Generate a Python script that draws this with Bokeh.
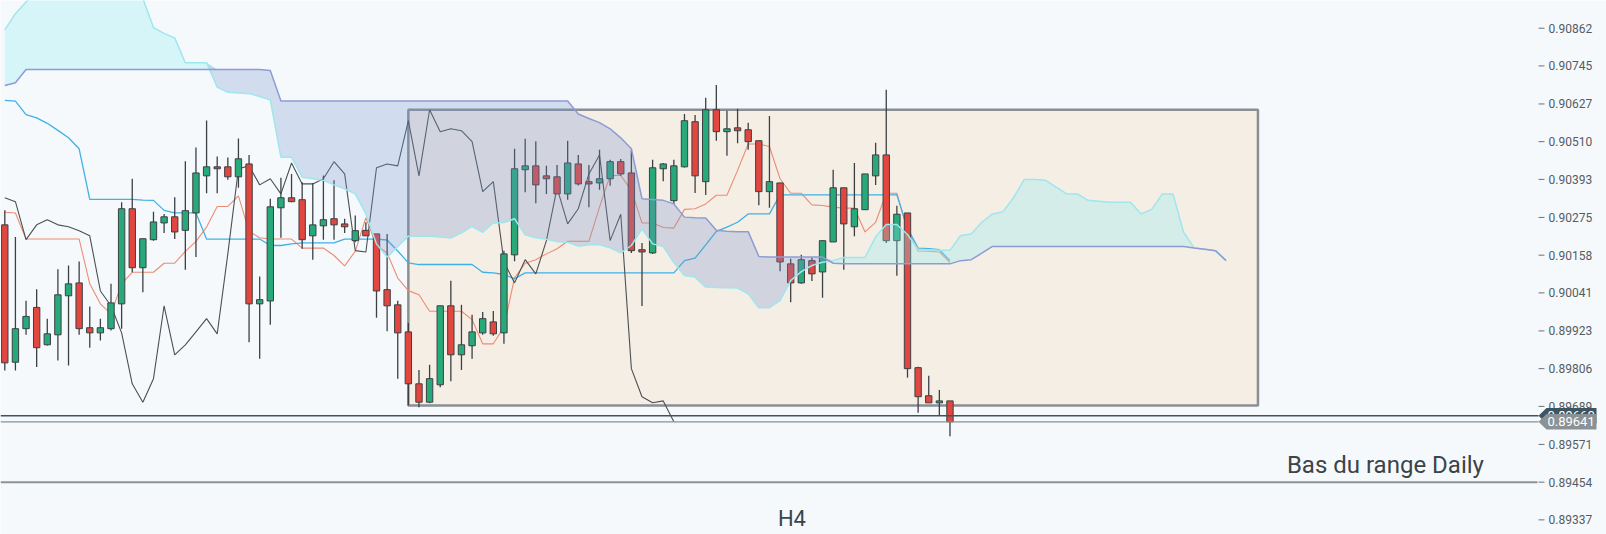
from bokeh.plotting import figure
from bokeh.models import ColumnDataSource, Range1d
from bokeh.embed import file_html
from bokeh.resources import INLINE
from bokeh.core.properties import value

# ---------------- data (H4 candles) ----------------
opens = [
    0.90252, 0.89826, 0.89930, 0.89996, 0.89880, 0.89911, 0.90032, 0.90072, 0.89933, 0.89917,
    0.89930, 0.90007, 0.90302, 0.90119, 0.90206, 0.90258, 0.90277, 0.90235, 0.90289, 0.90404,
    0.90432, 0.90432, 0.90401, 0.90441, 0.90007, 0.90016, 0.90305, 0.90336, 0.90330, 0.90218,
    0.90249, 0.90271, 0.90255, 0.90203, 0.90235, 0.90224, 0.90051, 0.90004, 0.89920, 0.89759,
    0.89702, 0.89756, 0.90001, 0.89849, 0.89877, 0.89917, 0.89951, 0.89917, 0.90159, 0.90423,
    0.90435, 0.90404, 0.90401, 0.90348, 0.90441, 0.90386, 0.90382, 0.90395, 0.90448, 0.90413,
    0.90175, 0.90165, 0.90426, 0.90327, 0.90432, 0.90572, 0.90386, 0.90609, 0.90541, 0.90553,
    0.90547, 0.90513, 0.90355, 0.90382, 0.90131, 0.90072, 0.90141, 0.90106, 0.90199, 0.90367,
    0.90246, 0.90299, 0.90404, 0.90469, 0.90203, 0.90289, 0.89809, 0.89722, 0.89700, 0.89706]
highs = [
    0.90297, 0.90214, 0.90017, 0.90052, 0.89961, 0.90114, 0.90126, 0.90138, 0.89999, 0.89961,
    0.90069, 0.90322, 0.90395, 0.90209, 0.90293, 0.90286, 0.90338, 0.90449, 0.90492, 0.90576,
    0.90464, 0.90461, 0.90520, 0.90469, 0.90092, 0.90333, 0.90398, 0.90410, 0.90384, 0.90382,
    0.90405, 0.90390, 0.90271, 0.90281, 0.90260, 0.90224, 0.90224, 0.90017, 0.89948, 0.89802,
    0.89818, 0.90001, 0.90079, 0.90004, 0.89973, 0.89982, 0.89985, 0.90172, 0.90488, 0.90519,
    0.90511, 0.90435, 0.90438, 0.90513, 0.90469, 0.90438, 0.90485, 0.90454, 0.90456, 0.90485,
    0.90196, 0.90454, 0.90444, 0.90454, 0.90596, 0.90593, 0.90646, 0.90686, 0.90606, 0.90612,
    0.90569, 0.90514, 0.90590, 0.90383, 0.90147, 0.90159, 0.90150, 0.90203, 0.90423, 0.90367,
    0.90444, 0.90410, 0.90507, 0.90671, 0.90311, 0.90289, 0.89812, 0.89784, 0.89740, 0.89706]
lows = [
    0.89800, 0.89800, 0.89911, 0.89811, 0.89878, 0.89831, 0.89816, 0.89911, 0.89871, 0.89893,
    0.89924, 0.89930, 0.90105, 0.90043, 0.90203, 0.90227, 0.90208, 0.90113, 0.90152, 0.90350,
    0.90350, 0.90392, 0.90367, 0.89888, 0.89837, 0.89942, 0.90212, 0.90322, 0.90178, 0.90144,
    0.90206, 0.90206, 0.90227, 0.90198, 0.90218, 0.89964, 0.89922, 0.89775, 0.89692, 0.89686,
    0.89699, 0.89748, 0.89767, 0.89802, 0.89837, 0.89911, 0.89908, 0.89883, 0.90139, 0.90353,
    0.90319, 0.90348, 0.90348, 0.90330, 0.90374, 0.90307, 0.90361, 0.90373, 0.90404, 0.90165,
    0.90000, 0.90162, 0.90387, 0.90317, 0.90430, 0.90351, 0.90345, 0.90513, 0.90466, 0.90505,
    0.90485, 0.90313, 0.90305, 0.90108, 0.90012, 0.90069, 0.90078, 0.90026, 0.90199, 0.90113,
    0.90217, 0.90299, 0.90376, 0.90196, 0.90094, 0.89778, 0.89669, 0.89700, 0.89661, 0.89596]
closes = [
    0.89824, 0.89930, 0.89968, 0.89871, 0.89914, 0.90035, 0.90069, 0.89930, 0.89917, 0.89933,
    0.90010, 0.90302, 0.90119, 0.90209, 0.90261, 0.90277, 0.90230, 0.90296, 0.90413, 0.90432,
    0.90426, 0.90401, 0.90457, 0.90007, 0.90020, 0.90308, 0.90336, 0.90324, 0.90206, 0.90252,
    0.90268, 0.90252, 0.90246, 0.90234, 0.90218, 0.90047, 0.90001, 0.89917, 0.89759, 0.89702,
    0.89775, 0.90001, 0.89849, 0.89880, 0.89920, 0.89961, 0.89914, 0.90162, 0.90426, 0.90435,
    0.90376, 0.90395, 0.90348, 0.90444, 0.90379, 0.90379, 0.90395, 0.90448, 0.90410, 0.90172,
    0.90168, 0.90429, 0.90441, 0.90435, 0.90575, 0.90404, 0.90609, 0.90541, 0.90550, 0.90544,
    0.90510, 0.90355, 0.90386, 0.90137, 0.90072, 0.90144, 0.90100, 0.90203, 0.90367, 0.90255,
    0.90302, 0.90410, 0.90469, 0.90203, 0.90285, 0.89806, 0.89719, 0.89700, 0.89706, 0.89641]

tenkan = [
    0.90291, 0.90289, 0.90208, 0.90208, 0.90208, 0.90208, 0.90208, 0.90208, 0.90069, 0.90007,
    0.89976, 0.90069, 0.90105, 0.90105, 0.90105, 0.90133, 0.90133, 0.90170, 0.90201, 0.90245,
    0.90309, 0.90309, 0.90342, 0.90232, 0.90212, 0.90208, 0.90208, 0.90208, 0.90180, 0.90180,
    0.90180, 0.90157, 0.90125, 0.90170, 0.90274, 0.90188, 0.90165, 0.90087, 0.90048, 0.90035,
    0.89984, 0.89984, 0.89984, 0.89984, 0.89958, 0.89883, 0.89883, 0.89935, 0.90088, 0.90133,
    0.90144, 0.90162, 0.90178, 0.90201, 0.90201, 0.90201, 0.90307, 0.90405, 0.90405, 0.90359,
    0.90258, 0.90258, 0.90244, 0.90242, 0.90300, 0.90302, 0.90317, 0.90344, 0.90344, 0.90421,
    0.90503, 0.90503, 0.90495, 0.90395, 0.90350, 0.90350, 0.90314, 0.90312, 0.90307, 0.90304,
    0.90304, 0.90230, 0.90260, 0.90350, 0.90350, 0.90235, 0.90171, 0.90170, 0.90168, 0.90135]
kijun = [
    0.90638, 0.90636, 0.90594, 0.90584, 0.90567, 0.90545, 0.90522, 0.90488, 0.90331, 0.90331,
    0.90331, 0.90331, 0.90331, 0.90329, 0.90328, 0.90297, 0.90289, 0.90289, 0.90289, 0.90208,
    0.90208, 0.90208, 0.90208, 0.90208, 0.90208, 0.90188, 0.90188, 0.90193, 0.90196, 0.90196,
    0.90196, 0.90196, 0.90208, 0.90208, 0.90208, 0.90208, 0.90205, 0.90171, 0.90134, 0.90129,
    0.90129, 0.90129, 0.90129, 0.90129, 0.90129, 0.90105, 0.90103, 0.90098, 0.90085, 0.90103,
    0.90103, 0.90103, 0.90103, 0.90103, 0.90103, 0.90103, 0.90103, 0.90103, 0.90103, 0.90103,
    0.90103, 0.90103, 0.90103, 0.90103, 0.90141, 0.90149, 0.90190, 0.90232, 0.90245, 0.90260,
    0.90286, 0.90286, 0.90286, 0.90345, 0.90345, 0.90345, 0.90345, 0.90345, 0.90345, 0.90345,
    0.90345, 0.90345, 0.90345, 0.90345, 0.90345, 0.90241, 0.90180, 0.90178, 0.90175, 0.90141]
senkou_a = [
    0.90857, 0.90907, 0.90943, 0.90979, 0.90979, 0.90979, 0.90979, 0.90979, 0.90979, 0.90979,
    0.90979, 0.90979, 0.90979, 0.90954, 0.90864, 0.90846, 0.90832, 0.90755, 0.90755, 0.90755,
    0.90679, 0.90663, 0.90661, 0.90659, 0.90650, 0.90639, 0.90462, 0.90462, 0.90400, 0.90395,
    0.90390, 0.90376, 0.90364, 0.90348, 0.90286, 0.90193, 0.90152, 0.90185, 0.90217, 0.90217,
    0.90217, 0.90214, 0.90211, 0.90227, 0.90247, 0.90229, 0.90258, 0.90259, 0.90271, 0.90221,
    0.90212, 0.90207, 0.90200, 0.90198, 0.90186, 0.90190, 0.90190, 0.90181, 0.90165, 0.90188,
    0.90240, 0.90193, 0.90185, 0.90135, 0.90095, 0.90090, 0.90059, 0.90058, 0.90057, 0.90056,
    0.90038, 0.89995, 0.89995, 0.90017, 0.90079, 0.90107, 0.90126, 0.90136, 0.90141, 0.90151,
    0.90151, 0.90151, 0.90215, 0.90253, 0.90253, 0.90222, 0.90176, 0.90175, 0.90173, 0.90173,
    0.90219, 0.90224, 0.90260, 0.90286, 0.90293, 0.90337, 0.90393, 0.90393, 0.90390, 0.90369,
    0.90348, 0.90348, 0.90328, 0.90325, 0.90322, 0.90322, 0.90322, 0.90286, 0.90300, 0.90348,
    0.90348, 0.90229, 0.90180, 0.90176, 0.90172, 0.90141]
senkou_b = [
    0.90684, 0.90693, 0.90734, 0.90734, 0.90734, 0.90734, 0.90734, 0.90734, 0.90734, 0.90734,
    0.90734, 0.90734, 0.90734, 0.90734, 0.90734, 0.90734, 0.90734, 0.90734, 0.90734, 0.90734,
    0.90734, 0.90734, 0.90734, 0.90734, 0.90734, 0.90731, 0.90636, 0.90636, 0.90636, 0.90636,
    0.90636, 0.90636, 0.90636, 0.90636, 0.90636, 0.90636, 0.90636, 0.90636, 0.90636, 0.90636,
    0.90636, 0.90636, 0.90636, 0.90636, 0.90636, 0.90636, 0.90636, 0.90636, 0.90636, 0.90636,
    0.90636, 0.90636, 0.90636, 0.90636, 0.90596, 0.90582, 0.90569, 0.90550, 0.90522, 0.90488,
    0.90333, 0.90331, 0.90328, 0.90317, 0.90276, 0.90274, 0.90273, 0.90235, 0.90232, 0.90231,
    0.90231, 0.90154, 0.90152, 0.90152, 0.90152, 0.90152, 0.90152, 0.90152, 0.90133, 0.90131,
    0.90131, 0.90131, 0.90131, 0.90131, 0.90131, 0.90131, 0.90131, 0.90131, 0.90131, 0.90131,
    0.90141, 0.90144, 0.90164, 0.90185, 0.90185, 0.90185, 0.90185, 0.90185, 0.90185, 0.90185,
    0.90185, 0.90185, 0.90185, 0.90185, 0.90185, 0.90185, 0.90185, 0.90185, 0.90185, 0.90185,
    0.90185, 0.90185, 0.90180, 0.90176, 0.90172, 0.90141]

CHIKOU_SHIFT = 26
y_ticks = [0.90862, 0.90745, 0.90627, 0.90510, 0.90393, 0.90275, 0.90158,
           0.90041, 0.89923, 0.89806, 0.89689, 0.89571, 0.89454, 0.89337]
y_tick_labels = ["0.90862", "0.90745", "0.90627", "0.90510", "0.90393", "0.90275", "0.90158",
                 "0.90041", "0.89923", "0.89806", "0.89689", "0.89571", "0.89454", "0.89337"]

range_box = dict(start=38, end=118, top=0.90609, bottom=0.89692)   # daily range box
price_a = 0.89660          # dark price line / tag
price_b = 0.89641          # last close line / tag
daily_low = 0.89454        # "Bas du range Daily"

# ---------------- layout constants (x in bar units) ----------------
X_LEFT, X_FRAME_END, X_RIGHT = -0.405, 144.32, 150.82
TICK_X0, TICK_X1, TICK_LABEL_X = 144.42, 144.98, 145.36
TAG_TIP, TAG_BODY, TAG_END, TAG_TEXT_X, TAG_HALF = 144.42, 145.17, 149.88, 145.26, 0.00024
NOTE_POS = (130.0, 0.895075)    # "Bas du range Daily" (baseline)
TF_POS = (74.12, 0.893400)      # "H4" (baseline)

BG = "#f6f9fc"
GREEN = "#27a97a"
RED = "#e2463f"
OUTLINE = "#3b4045"
FONT = "Roboto"
AXIS_TEXT = "#555c61"

n = len(closes)
idx = list(range(n))
src = ColumnDataSource(dict(
    x=idx, o=opens, h=highs, l=lows, c=closes,
    top=[max(o, c) for o, c in zip(opens, closes)],
    bottom=[min(o, c) for o, c in zip(opens, closes)],
    color=[GREEN if c >= o else RED for o, c in zip(opens, closes)],
))

m = len(senkou_a)
cx = list(range(m))
upper = [max(a, b) for a, b in zip(senkou_a, senkou_b)]
cloud = ColumnDataSource(dict(x=cx, a=senkou_a, b=senkou_b, top=upper))

p = figure(width=1606, height=534, output_backend="svg", toolbar_location=None,
           x_range=Range1d(X_LEFT, X_RIGHT), y_range=Range1d(0.892916, 0.909479),
           x_axis_location=None, y_axis_location=None,
           min_border_left=0, min_border_top=0, min_border_bottom=0, min_border_right=0,
           background_fill_color=BG, border_fill_color=BG, outline_line_color=None)
p.grid.visible = False

# range box
p.quad(left=[range_box["start"]], right=[range_box["end"]],
       top=[range_box["top"]], bottom=[range_box["bottom"]],
       fill_color="#f5eee5", line_color="#8a8f93", line_width=2.5)

# tenkan / kijun / chikou
p.line(idx, tenkan, line_color="#ec8c74", line_width=1.1)
p.line(idx, kijun, line_color="#3fb1e5", line_width=1.3)
p.line(idx[:n - CHIKOU_SHIFT], closes[CHIKOU_SHIFT:], line_color="#4b5055", line_width=1.1)

# candles
p.segment(x0="x", y0="h", x1="x", y1="l", source=src, line_color=OUTLINE, line_width=1.3)
p.vbar(x="x", width=0.6, top="top", bottom="bottom", source=src,
       fill_color="color", line_color=OUTLINE, line_width=1)

# cloud
p.varea(x="x", y1="b", y2="top", source=cloud, fill_color="#8becef", fill_alpha=0.3)
p.varea(x="x", y1="a", y2="top", source=cloud, fill_color="#7492cd", fill_alpha=0.28)
p.line(x="x", y="a", source=cloud, line_color="#9fe6ed", line_width=1.5)
p.line(x="x", y="b", source=cloud, line_color="#8d9cd3", line_width=1.5)

# horizontal price lines
p.segment(x0=[X_LEFT], y0=[daily_low], x1=[X_FRAME_END], y1=[daily_low],
          line_color="#8c9396", line_width=2)
p.segment(x0=[X_LEFT], y0=[price_b], x1=[TAG_TIP], y1=[price_b],
          line_color="#8a9296", line_width=1.3)
p.segment(x0=[X_LEFT], y0=[price_a], x1=[TAG_TIP], y1=[price_a],
          line_color="#3d5360", line_width=1.3)

# price axis on the right (ticks + labels)
p.segment(x0=[TICK_X0] * len(y_ticks), y0=y_ticks, x1=[TICK_X1] * len(y_ticks), y1=y_ticks,
          line_color="#6b7176", line_width=1)
p.text(x=[TICK_LABEL_X] * len(y_ticks), y=y_ticks, text=y_tick_labels,
       text_font=value(FONT), text_font_size="12px", text_color=AXIS_TEXT,
       text_align="left", text_baseline="middle")

# annotations
p.text(x=[NOTE_POS[0]], y=[NOTE_POS[1]], text=["Bas du range Daily"], text_font=value(FONT),
       text_font_size="24px", text_color="#3b4449", text_align="center",
       text_baseline="alphabetic")
p.text(x=[TF_POS[0]], y=[TF_POS[1]], text=["H4"], text_font=value(FONT),
       text_font_size="22px", text_color="#3b4449", text_align="center",
       text_baseline="alphabetic")

# price tags
def tag(price, fill):
    xs = [TAG_TIP, TAG_BODY, TAG_END, TAG_END, TAG_BODY]
    ys = [price, price + TAG_HALF, price + TAG_HALF, price - TAG_HALF, price - TAG_HALF]
    p.patch(xs, ys, fill_color=fill, line_color=None)
    p.text(x=[TAG_TEXT_X], y=[price], text=["%.5f" % price], text_font=value(FONT),
           text_font_size="13px", text_color="white", text_align="left",
           text_baseline="middle")

tag(price_a, "#3d5561")
tag(price_b, "#8a9296")

open("out.html", "w").write(file_html(p, INLINE))
